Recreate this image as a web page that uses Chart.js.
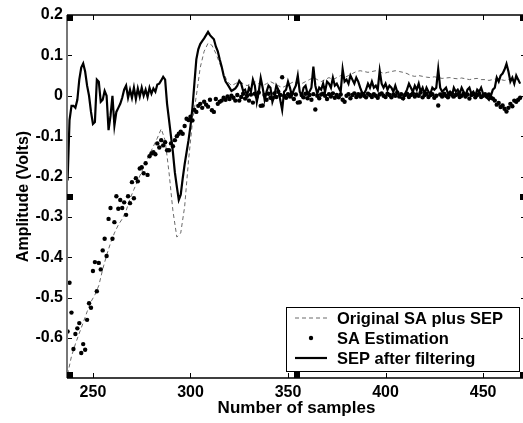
<!DOCTYPE html>
<html>
<head>
<meta charset="utf-8">
<script src="https://cdn.jsdelivr.net/npm/chart.js@4.4.1/dist/chart.umd.min.js"></script>
<style>
html,body{margin:0;padding:0;overflow:hidden;background:#fff}
#grafico{display:block}
</style>
</head>
<body>
<canvas id="grafico" width="530" height="423"></canvas>
<script>
// primera muestra de cada serie
const inicio = 237

const ticksX = [250, 300, 350, 400, 450]
const ticksY = [0.2, 0.1, 0, -0.1, -0.2, -0.3, -0.4, -0.5, -0.6]

const etiquetas = ['Original SA plus SEP', 'SA Estimation', 'SEP after filtering']

// linea discontinua, una muestra cada 2
const original = [
  -0.69, -0.645, -0.615, -0.588, -0.562, -0.535, -0.51, -0.493, -0.47, -0.43,
  -0.395, -0.365, -0.34, -0.32, -0.305, -0.285, -0.255, -0.232, -0.21, -0.188,
  -0.165, -0.145, -0.125, -0.105, -0.082, -0.11, -0.19, -0.285, -0.35, -0.34,
  -0.275, -0.16, -0.065, 0.0, 0.07, 0.11, 0.13, 0.125, 0.105, 0.08,
  0.055, 0.035, 0.025, 0.03, 0.035, 0.03, 0.025, 0.03, 0.035, 0.03,
  0.025, 0.03, 0.035, 0.03, 0.025, 0.02, 0.025, 0.03, 0.035, 0.03,
  0.03, 0.035, 0.04, 0.045, 0.04, 0.035, 0.04, 0.045, 0.04, 0.045,
  0.05, 0.045, 0.05, 0.055, 0.06, 0.062, 0.06, 0.058, 0.06, 0.062,
  0.06, 0.055, 0.058, 0.06, 0.062, 0.06, 0.058, 0.055, 0.05, 0.048,
  0.05, 0.048, 0.046, 0.045, 0.047, 0.045, 0.043, 0.044, 0.045, 0.043,
  0.042, 0.044, 0.042, 0.04, 0.042, 0.043, 0.04, 0.04, 0.038, 0.04,
  0.042, 0.04, 0.038, 0.04, 0.042, 0.04, 0.04
]

// linea continua, una muestra cada 1
const sepFiltrado = [
  -0.21, -0.06, -0.025, -0.025, -0.03, -0.01, 0.04, 0.07, 0.08, 0.06,
  0.025, 0.0, -0.04, -0.07, -0.065, 0.04, 0.035, -0.015, -0.01, 0.012,
  0.0, -0.085, -0.05, 0.0, -0.074, -0.04, -0.03, -0.02, -0.005, 0.015,
  0.025, -0.005, 0.015, -0.005, 0.02, -0.008, 0.018, -0.002, 0.02, 0.0,
  0.015, -0.003, 0.02, 0.005, 0.018, 0.01, 0.028, 0.03, 0.038, 0.047,
  0.04, -0.02, -0.06, -0.1, -0.14, -0.19, -0.225, -0.258, -0.245, -0.205,
  -0.17, -0.14, -0.11, -0.075, -0.03, 0.03, 0.09, 0.115, 0.128, 0.135,
  0.142, 0.15, 0.158, 0.15, 0.145, 0.14, 0.122, 0.11, 0.09, 0.072,
  0.05, 0.035, 0.028, 0.02, 0.012, 0.015, 0.018, 0.025, 0.037, 0.03,
  0.012, 0.015, 0.0, 0.02, 0.01, 0.04, 0.025, -0.015, 0.01, 0.044,
  0.02, -0.01, 0.01, 0.025, 0.02, -0.015, 0.0, 0.025, 0.015, -0.01,
  -0.035, 0.01, 0.015, 0.035, 0.02, 0.0, 0.015, 0.025, 0.05, 0.01,
  0.0, 0.02, 0.025, 0.005, 0.01, 0.02, 0.072, 0.025, 0.005, 0.02,
  0.015, 0.03, 0.01, 0.035, 0.03, 0.02, 0.045, 0.025, 0.03, 0.02,
  0.01, 0.066, 0.035, 0.04, 0.03, 0.05, 0.04, 0.03, 0.045, 0.035,
  0.02, 0.007, 0.005, 0.015, 0.03, 0.02, 0.035, 0.02, 0.025, 0.015,
  0.062, 0.03, 0.02, 0.03, 0.015, 0.025, 0.02, 0.01, 0.025, 0.01,
  0.0, -0.005, -0.008, 0.005, 0.015, 0.03, 0.02, 0.01, 0.025, 0.015,
  0.03, 0.01, 0.02, 0.005, 0.02, 0.01, 0.005, 0.02, 0.015, 0.02,
  0.066, 0.02, 0.01, 0.015, 0.02, 0.005, 0.01, 0.0, 0.02, 0.01,
  0.015, 0.005, 0.02, 0.01, 0.0, 0.015, 0.02, 0.005, 0.01, 0.0,
  0.015, 0.01, 0.02, 0.005, 0.0, -0.005, -0.01, 0.0, 0.015, 0.02,
  0.045, 0.035, 0.05, 0.055, 0.065, 0.079, 0.06, 0.035, 0.045, 0.03,
  0.05, 0.04, 0.03
]

// puntos, una muestra cada 1
const estimacionSA = [
  -0.584, -0.463, -0.537, -0.627, -0.59, -0.576, -0.563, -0.637, -0.615, -0.629,
  -0.555, -0.514, -0.525, -0.434, -0.412, -0.484, -0.414, -0.43, -0.383, -0.354,
  -0.397, -0.305, -0.278, -0.354, -0.313, -0.249, -0.28, -0.258, -0.278, -0.264,
  -0.295, -0.249, -0.266, -0.214, -0.254, -0.204, -0.212, -0.18, -0.177, -0.192,
  -0.167, -0.196, -0.15, -0.143, -0.14, -0.145, -0.118, -0.128, -0.11, -0.123,
  -0.115, -0.135, -0.135, -0.118, -0.125, -0.11, -0.1, -0.094, -0.089, -0.094,
  -0.075, -0.057, -0.06, -0.052, -0.061, -0.035, -0.04, -0.025, -0.02, -0.03,
  -0.015, -0.022, -0.027, -0.01, -0.036, -0.04, -0.008, -0.02, -0.015, -0.012,
  -0.005, -0.01, -0.002, -0.008, 0.0, -0.005, -0.012, 0.002, -0.012, -0.003,
  0.005, -0.007, 0.0, -0.012, 0.003, -0.017, 0.005, -0.002, 0.008, -0.025,
  -0.024, 0.002, -0.01, 0.005, -0.005, -0.007, 0.006, -0.003, 0.01, 0.002,
  0.046, 0.0, -0.005, 0.004, -0.002, 0.006, -0.008, 0.003, -0.017, -0.016,
  0.002, -0.004, 0.005, -0.006, 0.002, -0.01, 0.004, -0.034, 0.0, -0.006,
  0.003, 0.005, 0.0, -0.008, 0.004, -0.002, 0.006, -0.005, 0.002, -0.004,
  0.003, -0.01, -0.015, 0.0, 0.004, -0.006, 0.002, 0.006, -0.003, 0.004,
  -0.002, 0.005, 0.0, -0.004, 0.005, 0.002, -0.003, 0.004, 0.0, -0.005,
  0.003, 0.006, 0.0, -0.003, 0.005, 0.002, -0.004, 0.003, 0.0, 0.008,
  -0.002, 0.004, -0.006, 0.002, 0.005, -0.003, 0.002, 0.006, -0.002, 0.003,
  0.0, 0.008, -0.004, 0.002, 0.005, -0.003, 0.002, 0.004, -0.005, 0.0,
  -0.024, 0.003, -0.002, 0.005, 0.0, -0.004, 0.003, 0.006, -0.002, 0.002,
  0.004, -0.003, 0.0, 0.005, -0.002, 0.003, -0.007, 0.002, 0.004, -0.004,
  0.002, 0.005, -0.003, 0.0, 0.004, -0.002, 0.003, -0.005, -0.007, -0.012,
  -0.022, -0.018, -0.028, -0.024, -0.032, -0.039, -0.03, -0.02, -0.026, -0.012,
  -0.015, -0.01, -0.005
]

const fuente = "'Liberation Sans', Arial, sans-serif"

function muestras(paso, n){
  let arr = []
  for (let i = 0; i < n; i++) {
    arr.push(inicio + i * paso)
  }
  return arr
}

function puntos(valores, paso){
  const xs = muestras(paso, valores.length)
  return valores.map((v, i) => ({x: xs[i], y: v}))
}

// marco estilo matlab: caja, ticks hacia dentro y cuadritos de seleccion
const marco = {
  id: 'marco',
  afterDraw(chart){
    const ctx = chart.ctx
    const ca = chart.chartArea
    const sx = chart.scales.x
    const sy = chart.scales.y

    ctx.save()
    ctx.strokeStyle = '#000'
    ctx.lineWidth = 1
    ctx.beginPath()
    ticksY.forEach(v => {
      const y = Math.round(sy.getPixelForValue(v)) + 0.5
      ctx.moveTo(ca.left, y); ctx.lineTo(ca.left + 5, y)
      ctx.moveTo(ca.right, y); ctx.lineTo(ca.right - 5, y)
    })
    ticksX.forEach(v => {
      const x = Math.round(sx.getPixelForValue(v)) + 0.5
      ctx.moveTo(x, ca.bottom); ctx.lineTo(x, ca.bottom - 5)
      ctx.moveTo(x, ca.top); ctx.lineTo(x, ca.top + 5)
    })
    ctx.stroke()

    ctx.lineWidth = 1.5
    ctx.beginPath()
    ctx.moveTo(ca.left, ca.top); ctx.lineTo(ca.right, ca.top); ctx.lineTo(ca.right, ca.bottom); ctx.lineTo(ca.left, ca.bottom)
    ctx.stroke()
    ctx.strokeStyle = '#777'
    ctx.lineWidth = 2
    ctx.beginPath()
    ctx.moveTo(ca.left, ca.top); ctx.lineTo(ca.left, ca.bottom)
    ctx.stroke()

    // cuadritos
    const t = 6
    const mx = (ca.left + ca.right) / 2 - t / 2
    const my = (ca.top + ca.bottom) / 2 - t / 2
    ctx.fillStyle = '#000'
    const pos = [
      [ca.left, ca.top], [mx, ca.top], [ca.right - t, ca.top],
      [ca.left, my], [ca.right - t, my],
      [ca.left, ca.bottom - t], [mx, ca.bottom - t], [ca.right - t, ca.bottom - t]
    ]
    pos.forEach(p => ctx.fillRect(Math.round(p[0]), Math.round(p[1]), t, t))

    // leyenda
    const w = 234, h = 65
    const x0 = Math.round(ca.right - 6 - w)
    const y0 = Math.round(ca.bottom - 6 - h)
    ctx.fillStyle = '#fff'
    ctx.fillRect(x0, y0, w, h)
    ctx.strokeStyle = '#000'
    ctx.lineWidth = 1
    ctx.strokeRect(x0 + 0.5, y0 + 0.5, w - 1, h - 1)

    ctx.font = "bold 16.5px " + fuente
    ctx.textBaseline = 'middle'
    chart.data.datasets.forEach((ds, i) => {
      const y = y0 + 11 + i * 20
      if (ds.showLine === false) {
        ctx.fillStyle = ds.pointBackgroundColor
        ctx.beginPath()
        ctx.arc(x0 + 25, y, ds.pointRadius, 0, Math.PI * 2)
        ctx.fill()
      } else {
        ctx.strokeStyle = ds.borderColor
        ctx.lineWidth = ds.borderWidth
        ctx.setLineDash(ds.borderDash || [])
        ctx.beginPath()
        ctx.moveTo(x0 + 9, y); ctx.lineTo(x0 + 41, y)
        ctx.stroke()
        ctx.setLineDash([])
      }
      ctx.fillStyle = '#000'
      ctx.fillText(ds.label, x0 + 51, y + 1)
    })
    ctx.restore()
  }
}

function grafico(){
  const ctx = document.getElementById('grafico')

  new Chart(ctx, {
    type: 'line',
    data: {
      datasets: [
        {
          label: etiquetas[0],
          data: puntos(original, 2),
          borderColor: '#6a6a6a',
          borderWidth: 1,
          borderDash: [4, 3],
          pointRadius: 0,
          tension: 0,
          order: 3
        },
        {
          label: etiquetas[1],
          data: puntos(estimacionSA, 1),
          showLine: false,
          pointRadius: 2.2,
          pointBackgroundColor: '#000',
          pointBorderWidth: 0,
          borderColor: '#000',
          order: 2
        },
        {
          label: etiquetas[2],
          data: puntos(sepFiltrado, 1),
          borderColor: '#000',
          borderWidth: 2.2,
          pointRadius: 0,
          tension: 0,
          order: 1
        }
      ]
    },
    options: {
      responsive: false,
      animation: false,
      devicePixelRatio: 1,
      layout: {padding: {top: 15, right: 3, bottom: 0, left: 0}},
      plugins: {legend: {display: false}, tooltip: {enabled: false}},
      scales: {
        x: {
          type: 'linear',
          min: 236.7,
          max: 472,
          afterBuildTicks: s => { s.ticks = ticksX.map(v => ({value: v})) },
          afterFit: s => { s.height = 45 },
          grid: {display: false, drawTicks: false},
          border: {display: false},
          ticks: {color: '#000', padding: 5, maxRotation: 0, autoSkip: false, font: {family: fuente, size: 16, weight: 'bold'}},
          title: {display: true, text: 'Number of samples', color: '#000', padding: {top: 0, bottom: 4}, font: {family: fuente, size: 17, weight: 'bold'}}
        },
        y: {
          min: -0.699,
          max: 0.2,
          afterBuildTicks: s => { s.ticks = ticksY.map(v => ({value: v})) },
          afterFit: s => { s.width = 67 },
          grid: {display: false, drawTicks: false},
          border: {display: false},
          ticks: {color: '#000', padding: 4, autoSkip: false, font: {family: fuente, size: 16, weight: 'bold'},
            callback: v => String(Number(v.toFixed(1)))},
          title: {display: true, text: 'Amplitude (Volts)', color: '#000', padding: {top: 14, bottom: 0}, font: {family: fuente, size: 16, weight: 'bold'}}
        }
      }
    },
    plugins: [marco]
  })
}

grafico()
</script>
</body>
</html>
